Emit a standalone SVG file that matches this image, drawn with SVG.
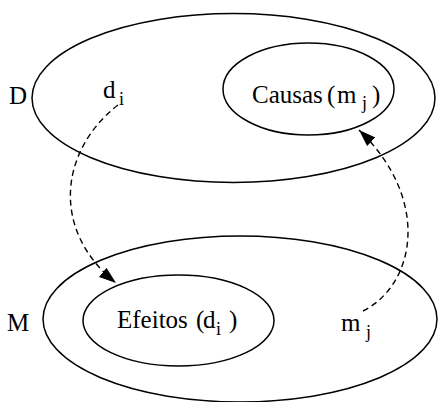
<svg xmlns="http://www.w3.org/2000/svg" width="438" height="402" viewBox="0 0 438 402">
  <style>
    .shape { fill: none; stroke: #000; stroke-width: 1.5; }
    .edge { fill: none; stroke: #000; stroke-width: 1.4; stroke-dasharray: 6 4; }
    .t { font-family: 'Liberation Serif', 'Times New Roman', 'DejaVu Serif', serif; font-size: 25px; fill: #000; }
    .sub { font-size: 18px; }
  </style>
  <defs>
    <marker id="arrow" markerUnits="userSpaceOnUse" markerWidth="18" markerHeight="14" viewBox="0 0 18 14" refX="17" refY="7" orient="auto">
      <path d="M0,1 L17,7 L0,13 z" fill="#000"/>
    </marker>
  </defs>
  <rect width="438" height="402" fill="#fff"/>

  <g id="D">
    <ellipse class="shape" cx="233.5" cy="98" rx="201.5" ry="84.5"/>
    <text class="t" font-family="Liberation Serif, serif" x="9" y="104">D</text>
  </g>
  <g id="Causas" class="t" font-family="Liberation Serif, serif">
    <ellipse class="shape" cx="308.5" cy="89" rx="85.5" ry="46"/>
    <text x="252" y="103">Causas</text>
    <text x="327" y="103">(</text>
    <text x="337" y="103">m</text>
    <text class="sub" x="362" y="109">j</text>
    <text x="372" y="103">)</text>
  </g>
  <g id="di" class="t" font-family="Liberation Serif, serif">
    <text x="103" y="98">d</text>
    <text class="sub" x="119" y="105">i</text>
  </g>
  <g id="M">
    <ellipse class="shape" cx="240" cy="319" rx="197" ry="83"/>
    <text class="t" font-family="Liberation Serif, serif" x="7" y="331">M</text>
  </g>
  <g id="Efeitos" class="t" font-family="Liberation Serif, serif">
    <ellipse class="shape" cx="178.5" cy="320.5" rx="95.5" ry="45.5"/>
    <text x="117" y="328">Efeitos</text>
    <text x="196" y="328">(</text>
    <text x="203" y="328">d</text>
    <text class="sub" x="216" y="335">i</text>
    <text x="229" y="328">)</text>
  </g>
  <g id="mj" class="t" font-family="Liberation Serif, serif">
    <text x="341" y="331">m</text>
    <text class="sub" x="366" y="338">j</text>
  </g>

  <g id="connectors">
    <path class="edge" d="M118,105 C60,150 50,230 116,283" marker-end="url(#arrow)"/>
    <path class="edge" d="M363,311 C415,285 432,200 359,130" marker-end="url(#arrow)"/>
  </g>
</svg>
